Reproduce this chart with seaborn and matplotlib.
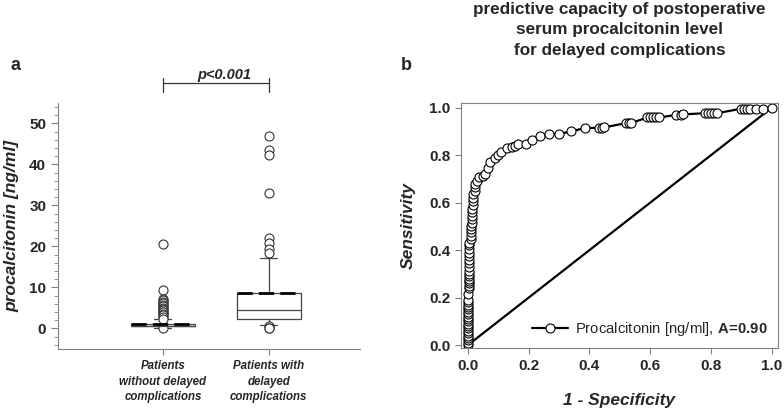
import matplotlib
matplotlib.use("Agg")
import matplotlib.pyplot as plt
import seaborn as sns
from matplotlib.ticker import MultipleLocator, FormatStrFormatter

# panel a: box summaries
groups = ["Patients\nwithout delayed\ncomplications", "Patients with\ndelayed\ncomplications"]
q1_vals = [0.5, 2.4]
med_vals = [0.7, 4.4]
q3_vals = [1.2, 8.7]
mean_vals = [1.0, 8.6]
whislo_vals = [0.2, 0.8]
whishi_vals = [2.2, 17.3]
fliers_without = [20.6, 9.4, 7.3, 6.9, 6.5, 6.1, 5.8, 5.4, 5.1, 4.7, 4.4, 4.1, 3.9, 3.6, 3.3, 2.9, 2.4, 0.0]
fliers_with = [46.9, 43.5, 42.2, 33.1, 22.0, 20.8, 19.4, 18.5, 0.6, 0.1, 0.0]

# panel b: ROC points
fpr = [0.0, 0.0, 0.0, 0.0, 0.0, 0.0, 0.0, 0.0, 0.0, 0.0, 0.0, 0.0, 0.0, 0.0, 0.0, 0.0, 0.0, 0.0, 0.0, 0.0, 0.0,
       0.003, 0.003, 0.003, 0.003, 0.003, 0.003, 0.003, 0.003,
       0.005, 0.005, 0.005, 0.005, 0.005, 0.005, 0.005, 0.005,
       0.009, 0.009, 0.009, 0.009, 0.009,
       0.012, 0.012, 0.012, 0.012, 0.012,
       0.016, 0.016, 0.016, 0.016,
       0.022, 0.022, 0.022, 0.03, 0.036,
       0.05, 0.057, 0.065, 0.073, 0.09, 0.10, 0.11, 0.128, 0.144, 0.155, 0.166, 0.19,
       0.21, 0.237, 0.267, 0.30, 0.34, 0.385, 0.432, 0.44, 0.447,
       0.52, 0.53, 0.537, 0.59, 0.60, 0.61, 0.62, 0.63,
       0.686, 0.70, 0.708, 0.78, 0.79, 0.80, 0.81, 0.82,
       0.90, 0.91, 0.92, 0.93, 0.95, 0.972, 1.0]
tpr = [0.0, 0.01, 0.02, 0.03, 0.04, 0.05, 0.06, 0.07, 0.08, 0.09, 0.10, 0.11, 0.12, 0.13, 0.14, 0.15, 0.16, 0.17, 0.18, 0.19, 0.215,
       0.24, 0.25, 0.26, 0.27, 0.28, 0.29, 0.30, 0.31,
       0.33, 0.345, 0.36, 0.375, 0.39, 0.405, 0.42, 0.43,
       0.445, 0.46, 0.475, 0.49, 0.50,
       0.515, 0.53, 0.545, 0.56, 0.575,
       0.59, 0.605, 0.62, 0.635,
       0.65, 0.665, 0.68, 0.69, 0.707,
       0.712, 0.72, 0.745, 0.77, 0.79, 0.80, 0.815, 0.83, 0.835, 0.84, 0.848, 0.848,
       0.865, 0.88, 0.89, 0.89, 0.90, 0.915, 0.915, 0.915, 0.917,
       0.935, 0.935, 0.935, 0.959, 0.959, 0.959, 0.959, 0.959,
       0.970, 0.970, 0.972, 0.977, 0.977, 0.977, 0.977, 0.977,
       0.996, 0.996, 0.996, 0.996, 0.996, 0.996, 1.0]

sns.set_style("white")
plt.rcParams["font.family"] = ["Liberation Sans", "DejaVu Sans"]
plt.rcParams["mathtext.fontset"] = "custom"
plt.rcParams["mathtext.bf"] = "Liberation Sans:bold"
plt.rcParams["mathtext.rm"] = "Liberation Sans"

fig = plt.figure(figsize=(7.84, 4.12), dpi=100)
ax1 = fig.add_axes([0.074, 0.153, 0.385, 0.597])
ax2 = fig.add_axes([0.588, 0.155, 0.404, 0.595])

spine_col = "#808080"
box_col = "#444444"

# ---- panel a
stats = []
all_fliers = [fliers_without, fliers_with]
for i in range(len(groups)):
    stats.append(dict(label=groups[i], q1=q1_vals[i], med=med_vals[i], q3=q3_vals[i],
                      mean=mean_vals[i], whislo=whislo_vals[i], whishi=whishi_vals[i],
                      fliers=all_fliers[i]))
ax1.bxp(stats, positions=[0, 1], widths=0.6, capwidths=0.16, showmeans=True, meanline=True,
        patch_artist=True,
        boxprops=dict(facecolor="white", edgecolor=box_col, linewidth=0.9),
        medianprops=dict(color=box_col, linewidth=0.9),
        whiskerprops=dict(color=box_col, linewidth=0.9),
        capprops=dict(color=box_col, linewidth=0.9),
        meanprops=dict(color="black", linestyle=(0, (5.5, 2.2)), linewidth=2.0),
        flierprops=dict(marker="o", markerfacecolor="white", markeredgecolor="#333333",
                        markersize=6.5, markeredgewidth=0.8))
ax1.set_xlim(-0.99, 1.86)
ax1.set_ylim(-5, 55)
ax1.yaxis.set_major_locator(MultipleLocator(10))
ax1.yaxis.set_minor_locator(MultipleLocator(2))
for s in ["top", "right"]:
    ax1.spines[s].set_visible(False)
for s in ["left", "bottom"]:
    ax1.spines[s].set_color(spine_col)
ax1.tick_params(axis="y", which="major", direction="out", length=5, color=spine_col, left=True, labelsize=11)
ax1.tick_params(axis="y", which="minor", direction="out", length=3, color=spine_col, left=True)
ax1.tick_params(axis="x", direction="out", length=4, color=spine_col, bottom=True, labelsize=8.3, pad=4)
for lab in ax1.get_yticklabels():
    lab.set_fontweight("bold")
for lab in ax1.get_xticklabels():
    lab.set_fontweight("bold")
    lab.set_fontstyle("italic")
    lab.set_linespacing(1.4)
ax1.set_ylabel("procalcitonin [ng/ml]", fontsize=12.5, fontweight="bold", fontstyle="italic")
ax1.yaxis.set_label_coords(-0.128, 0.5)

# significance bracket
ax1.plot([0, 1], [59.8, 59.8], color="#333333", lw=0.9, clip_on=False)
ax1.plot([0, 0], [57.6, 61.0], color="#333333", lw=0.9, clip_on=False)
ax1.plot([1, 1], [57.6, 61.0], color="#333333", lw=0.9, clip_on=False)
ax1.text(0.58, 61.8, "p<0.001", ha="center", va="center", fontsize=10.5,
         fontweight="bold", fontstyle="italic")

# ---- panel b
ax2.plot([0, 1], [0, 1], color="black", lw=1.6, zorder=1)
sns.lineplot(x=fpr, y=tpr, ax=ax2, sort=False, estimator=None, color="black", linewidth=1.6,
             marker="o", markersize=6.5, markerfacecolor="white", markeredgecolor="black",
             markeredgewidth=0.8, zorder=2,
             label=r"Procalcitonin [ng/ml], $\mathbf{A\!=\!0.90}$")
ax2.set_xlim(-0.023, 1.02)
ax2.set_ylim(-0.013, 1.02)
ax2.xaxis.set_major_locator(MultipleLocator(0.2))
ax2.yaxis.set_major_locator(MultipleLocator(0.2))
ax2.xaxis.set_major_formatter(FormatStrFormatter("%.1f"))
ax2.yaxis.set_major_formatter(FormatStrFormatter("%.1f"))
for s in ax2.spines.values():
    s.set_color(spine_col)
ax2.tick_params(direction="out", length=4, color=spine_col, left=True, bottom=True, labelsize=11)
for lab in ax2.get_xticklabels() + ax2.get_yticklabels():
    lab.set_fontweight("bold")
ax2.set_xlabel("1 - Specificity", fontsize=12.5, fontweight="bold", fontstyle="italic")
ax2.set_ylabel("Sensitivity", fontsize=12.5, fontweight="bold", fontstyle="italic")
ax2.xaxis.set_label_coords(0.5, -0.185)
ax2.yaxis.set_label_coords(-0.142, 0.5)
ax2.legend(loc="lower right", frameon=False, fontsize=10.7, handlelength=2.4,
           borderaxespad=0.25, handletextpad=0.5)

fig.text(0.790, 0.995, "predictive capacity of postoperative\nserum procalcitonin level\nfor delayed complications",
         ha="center", va="top", fontsize=12.3, fontweight="bold", linespacing=1.45)
fig.text(0.014, 0.842, "a", fontsize=13, fontweight="bold", va="center")
fig.text(0.511, 0.842, "b", fontsize=13, fontweight="bold", va="center")

fig.savefig("out.png", dpi=100)
